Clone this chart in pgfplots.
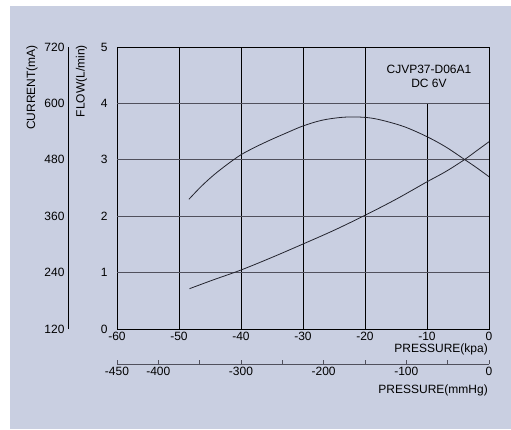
\documentclass[border=0pt]{standalone}
\usepackage{fontspec}
\setmainfont{Liberation Sans}
\usepackage{pgfplots}
\pgfplotsset{compat=1.18}
\definecolor{bg}{RGB}{201,207,225}
\definecolor{gridh}{RGB}{80,80,92}
\definecolor{curve}{RGB}{35,35,45}
\newcommand\fs{\fontsize{12}{14}\selectfont}
\begin{document}
\begin{tikzpicture}
\path[use as bounding box] (0pt,0pt) rectangle (511pt,429pt);
\fill[bg] (10pt,0pt) rectangle (511pt,423pt);
% current axis
\begin{axis}[at={(68pt,100pt)}, anchor=south west, scale only axis, width=1pt, height=282pt,
  xmin=0, xmax=1, ymin=120, ymax=720,
  hide x axis, axis y line*=left,
  ytick={120,240,360,480,600,720}, yticklabels={120,240,360,480,600,720},
  major tick length=0pt, ytick style={draw=none},
  tick label style={font=\fs, text=black},
  axis line style={black, line width=0.8pt}]
\end{axis}
% main axis
\begin{axis}[at={(117pt,100pt)}, anchor=south west, scale only axis, width=372pt, height=282pt,
  xmin=-60, xmax=0, ymin=0, ymax=5,
  xtick={-60,-50,-40,-30,-20,-10,0}, xticklabels={-60,-50,-40,-30,-20,-10,0},
  ytick={0,1,2,3,4,5}, yticklabels={0,1,2,3,4,5},
  major tick length=0pt, tick style={draw=none},
  tick label style={font=\fs, text=black},
  yticklabel style={xshift=-6pt},
  axis line style={black, line width=0.9pt}]
  \draw[black, line width=0.9pt] (axis cs:-50,0) -- (axis cs:-50,5);
  \draw[black, line width=0.9pt] (axis cs:-40,0) -- (axis cs:-40,5);
  \draw[black, line width=0.9pt] (axis cs:-30,0) -- (axis cs:-30,5);
  \draw[black, line width=0.9pt] (axis cs:-20,0) -- (axis cs:-20,5);
  \draw[black, line width=0.9pt] (axis cs:-10,0) -- (axis cs:-10,4);
  \draw[gridh, line width=1.1pt] (axis cs:-60,1) -- (axis cs:0,1);
  \draw[gridh, line width=1.1pt] (axis cs:-60,2) -- (axis cs:0,2);
  \draw[gridh, line width=1.1pt] (axis cs:-60,3) -- (axis cs:0,3);
  \draw[gridh, line width=1.1pt] (axis cs:-60,4) -- (axis cs:0,4);
  \addplot[smooth, tension=0.55, curve, line width=0.8pt] coordinates {
    (-48.4,2.30) (-46.4,2.53) (-44.4,2.73) (-42.2,2.92) (-40,3.09) (-37.6,3.23)
    (-35.3,3.35) (-32.6,3.48) (-30,3.60) (-27,3.70) (-24,3.75) (-21.5,3.76)
    (-19,3.74) (-16.5,3.68) (-13.5,3.58) (-10,3.41) (-7,3.23) (-4,3.01) (-2,2.86) (0,2.70)};
  \addplot[smooth, tension=0.55, curve, line width=0.8pt] coordinates {
    (-48.3,0.715) (-44.5,0.87) (-40,1.046) (-35,1.27) (-30,1.507) (-25,1.75)
    (-20,2.016) (-15,2.30) (-10,2.61) (-7,2.79) (-4,3.00) (-2,3.16) (0,3.32)};
\end{axis}
% mmHg axis
\begin{axis}[at={(117pt,65pt)}, anchor=south west, scale only axis, width=372pt, height=1pt,
  xmin=-450, xmax=0, ymin=0, ymax=1,
  hide y axis, axis x line*=bottom,
  xtick={-450,-400,-350,-300,-250,-200,-150,-100,-50,0},
  xticklabels={-450,-400,,-300,,-200,,-100,,0},
  tick align=inside, major tick length=4pt,
  xtick style={gridh, line width=0.9pt},
  tick label style={font=\fs, text=black},
  axis line style={gridh, line width=1pt}]
\end{axis}
\node[font=\fs, anchor=east, inner sep=0pt] at (488pt,79.7pt) {PRESSURE(kpa)};
\node[font=\fs, anchor=east, inner sep=0pt] at (488pt,39pt) {PRESSURE(mmHg)};
\node[font=\fs, rotate=90, anchor=east, inner sep=0pt] at (32pt,384pt) {CURRENT(mA)};
\node[font=\fs, rotate=90, anchor=east, inner sep=0pt] at (81.5pt,384pt) {FLOW(L/min)};
\node[font=\fs, align=center, inner sep=0pt] at (429pt,353pt) {CJVP37-D06A1\\DC 6V};
\end{tikzpicture}
\end{document}
